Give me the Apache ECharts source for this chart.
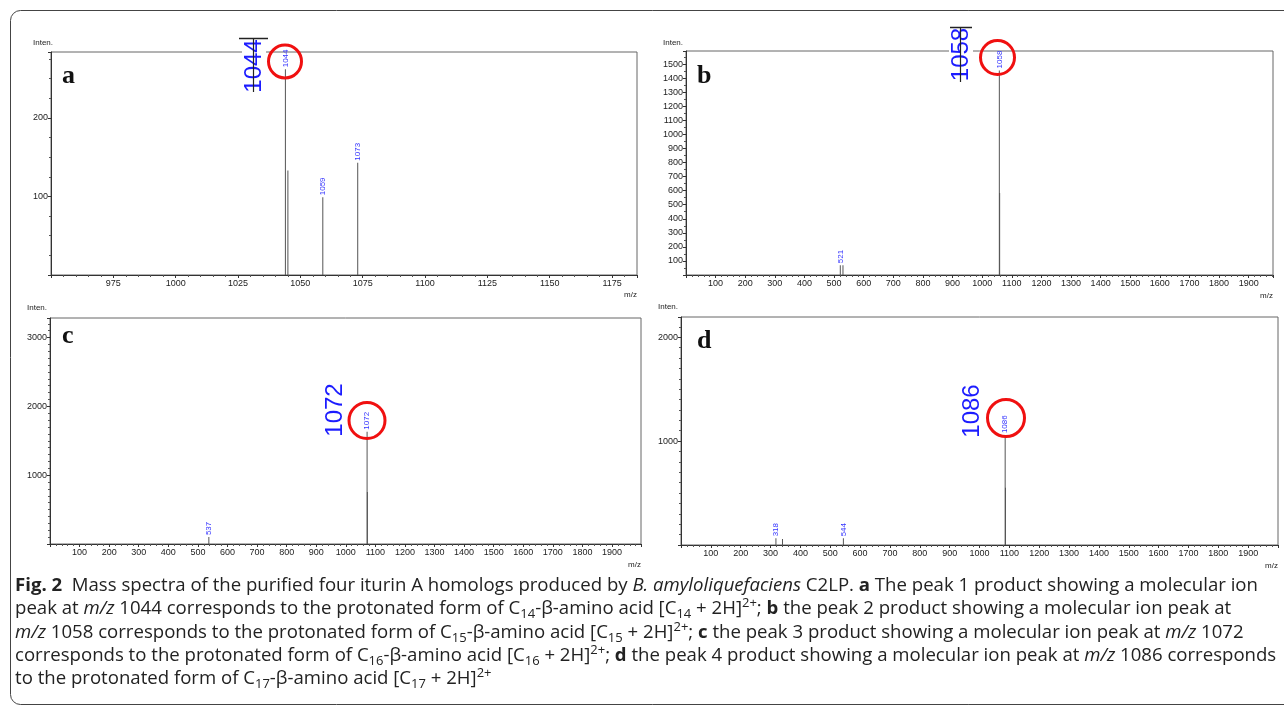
<!DOCTYPE html>
<html>
<head>
<meta charset="utf-8">
<script src="https://cdn.jsdelivr.net/npm/echarts@6/dist/echarts.min.js"></script>
<style>
html, body { margin: 0; padding: 0; background: #fff; }
#chart { width: 1284px; height: 714px; }
</style>
</head>
<body>
<div id="chart"></div>
<script>
// panel a (m/z 950-1185)
const mzA = [1044, 1045, 1059, 1073];
const intenA = [262, 133, 99, 143];
const tagA = [1, 0, 1, 1];
// panel b
const mzB = [521, 530, 1058, 1059];
const intenB = [70, 70, 1455, 583];
const tagB = [1, 0, 1, 0];
// panel c
const mzC = [537, 1072, 1073];
const intenC = [100, 1632, 754];
const tagC = [1, 1, 0];
// panel d
const mzD = [318, 340, 544, 1086, 1087];
const intenD = [64, 58, 64, 1058, 551];
const tagD = [1, 0, 1, 1, 0];

const panelLetters = ['a', 'b', 'c', 'd'];
const mainPeaks = ['1044', '1058', '1072', '1086'];

const chart = echarts.init(document.getElementById('chart'), null, { renderer: 'canvas' });

const grids = [
  { left: 51, top: 52, width: 586, height: 223 },
  { left: 686, top: 51, width: 587, height: 224 },
  { left: 50, top: 318, width: 591, height: 226 },
  { left: 681, top: 317, width: 597, height: 228 },
];

function xAx(i, min, max, interval, minor) {
  return {
    type: 'value', gridIndex: i, min: min, max: max, interval: interval,
    axisLine: { show: true, onZero: false, lineStyle: { color: '#333', width: 1 } },
    axisTick: { show: true, inside: false, length: 3, lineStyle: { color: '#333' } },
    minorTick: { show: true, splitNumber: minor, length: 2, lineStyle: { color: '#555' } },
    axisLabel: {
      fontSize: 9, fontFamily: 'Liberation Sans', color: '#222', margin: 4,
      showMinLabel: false, showMaxLabel: false,
      formatter: (v) => String(v),
    },
    splitLine: { show: false },
  };
}

function yAx(i, max, interval, minor) {
  const ax = xAx(i, 0, max, interval, minor);
  ax.axisLabel.margin = 3;
  return ax;
}

function peaks(i, mz, inten, tag) {
  return {
    type: 'bar', xAxisIndex: i, yAxisIndex: i, barWidth: 1,
    data: mz.map((m, k) => [m, inten[k]]),
    itemStyle: { color: '#555' },
    label: {
      show: true, position: 'top', rotate: 90, align: 'left', verticalAlign: 'middle',
      distance: 2, fontSize: 8, fontFamily: 'Liberation Sans', color: '#3434ff',
      formatter: (p) => tag[p.dataIndex] ? String(mz[p.dataIndex]) : '',
    },
    silent: true,
  };
}

// caption
const capFont = 'Open Sans';
const capStyles = {
  n: { fontSize: 18.6, lineHeight: 24, fontFamily: capFont, fill: '#222' },
  b: { fontSize: 18.6, lineHeight: 24, fontFamily: capFont, fontWeight: 'bold', fill: '#222' },
  i: { fontSize: 18.6, lineHeight: 24, fontFamily: capFont, fontStyle: 'italic', fill: '#222' },
  sub: { fontSize: 13, lineHeight: 13, fontFamily: capFont, verticalAlign: 'bottom', fill: '#222' },
  sup: { fontSize: 13, lineHeight: 13, fontFamily: capFont, verticalAlign: 'top', fill: '#222' },
};
const capLines = [
  [['b', 'Fig. 2'], ['n', '  Mass spectra of the purified four iturin A homologs produced by '], ['i', 'B. amyloliquefaciens'], ['n', ' C2LP. '], ['b', 'a'], ['n', ' The peak 1 product showing a molecular ion']],
  [['n', 'peak at '], ['i', 'm/z'], ['n', ' 1044 corresponds to the protonated form of C'], ['sub', '14'], ['n', '-β-amino acid [C'], ['sub', '14'], ['n', ' + 2H]'], ['sup', '2+'], ['n', '; '], ['b', 'b'], ['n', ' the peak 2 product showing a molecular ion peak at']],
  [['i', 'm/z'], ['n', ' 1058 corresponds to the protonated form of C'], ['sub', '15'], ['n', '-β-amino acid [C'], ['sub', '15'], ['n', ' + 2H]'], ['sup', '2+'], ['n', '; '], ['b', 'c'], ['n', ' the peak 3 product showing a molecular ion peak at '], ['i', 'm/z'], ['n', ' 1072']],
  [['n', 'corresponds to the protonated form of C'], ['sub', '16'], ['n', '-β-amino acid [C'], ['sub', '16'], ['n', ' + 2H]'], ['sup', '2+'], ['n', '; '], ['b', 'd'], ['n', ' the peak 4 product showing a molecular ion peak at '], ['i', 'm/z'], ['n', ' 1086 corresponds']],
  [['n', 'to the protonated form of C'], ['sub', '17'], ['n', '-β-amino acid [C'], ['sub', '17'], ['n', ' + 2H]'], ['sup', '2+']],
];

const graphics = [];
graphics.push({
  type: 'rect', shape: { x: 10.5, y: 10.5, width: 1290, height: 694, r: 10 },
  style: { fill: 'none', stroke: '#444', lineWidth: 1 }, silent: true, z: 1,
});
capLines.forEach((line, k) => {
  graphics.push({
    type: 'text', x: 15, y: 586 + k * 23.2,
    style: {
      text: line.map((t) => '{' + t[0] + '|' + t[1] + '}').join(''),
      rich: capStyles, verticalAlign: 'middle', align: 'left',
      fontSize: 18.6, fontFamily: capFont, fill: '#222',
    },
    silent: true,
  });
});

// panel letters
const letterPos = [[62, 76], [697, 76], [62, 336], [697, 341]];
panelLetters.forEach((l, k) => {
  graphics.push({
    type: 'text', x: letterPos[k][0], y: letterPos[k][1], z: 10,
    style: { text: l, font: 'bold 26px "Liberation Serif"', fill: '#111', verticalAlign: 'middle' },
    silent: true,
  });
});

// axis names
const intenPos = [[53, 43], [683, 42.5], [47, 308], [678, 306.5]];
const mzPos = [[637, 295], [1273, 295.5], [641, 565], [1278, 566]];
for (let k = 0; k < 4; k++) {
  graphics.push({
    type: 'text', x: intenPos[k][0], y: intenPos[k][1],
    style: { text: 'Inten.', font: '8px "Liberation Sans"', fill: '#222', align: 'right', verticalAlign: 'middle' },
    silent: true,
  });
  graphics.push({
    type: 'text', x: mzPos[k][0], y: mzPos[k][1],
    style: { text: 'm/z', font: '8px "Liberation Sans"', fill: '#222', align: 'right', verticalAlign: 'middle' },
    silent: true,
  });
}

// big blue peak annotations
const bigPos = [[254, 66], [961, 54.5], [335, 410], [972, 411]];
const bigBg = [true, true, false, false];
mainPeaks.forEach((t, k) => {
  graphics.push({
    type: 'text', x: bigPos[k][0], y: bigPos[k][1], rotation: Math.PI / 2, z: 20,
    style: {
      text: t, font: '24px "Liberation Sans"', fill: '#1c1cff', align: 'center', verticalAlign: 'middle',
      backgroundColor: bigBg[k] ? '#fff' : 'transparent', padding: [0, 1, 0, 1],
    },
    silent: true,
  });
});
// marker strokes over the a / b labels
graphics.push(
  { type: 'line', z: 21, shape: { x1: 239, y1: 38.5, x2: 268, y2: 38.5 }, style: { stroke: '#222', lineWidth: 1.5 }, silent: true },
  { type: 'line', z: 21, shape: { x1: 253.5, y1: 38, x2: 253.5, y2: 92 }, style: { stroke: '#222', lineWidth: 1.2 }, silent: true },
  { type: 'line', z: 21, shape: { x1: 950, y1: 27.5, x2: 972, y2: 27.5 }, style: { stroke: '#222', lineWidth: 1.5 }, silent: true },
  { type: 'line', z: 21, shape: { x1: 960.5, y1: 27, x2: 960.5, y2: 82 }, style: { stroke: '#222', lineWidth: 1.2 }, silent: true }
);

// red circles
const circles = [[285, 61.5, 16.5], [997.5, 57.5, 17], [367, 420.5, 18], [1006, 418, 18.5]];
circles.forEach((c) => {
  graphics.push({
    type: 'circle', z: 22, shape: { cx: c[0], cy: c[1], r: c[2] },
    style: { fill: 'none', stroke: '#f01010', lineWidth: 3 }, silent: true,
  });
});

chart.setOption({
  animation: false,
  backgroundColor: '#fff',
  grid: grids.map((g) => Object.assign({
    show: true, borderColor: '#666', borderWidth: 1, backgroundColor: 'transparent',
    containLabel: false, outerBoundsMode: 'none',
  }, g)),
  xAxis: [
    xAx(0, 950, 1185, 25, 5),
    xAx(1, 0, 1982, 100, 5),
    xAx(2, 0, 1998, 100, 5),
    xAx(3, 0, 2000, 100, 5),
  ],
  yAxis: [
    yAx(0, 284, 100, 4),
    yAx(1, 1593, 100, 2),
    yAx(2, 3284, 1000, 10),
    yAx(3, 2195, 1000, 10),
  ],
  series: [
    peaks(0, mzA, intenA, tagA),
    peaks(1, mzB, intenB, tagB),
    peaks(2, mzC, intenC, tagC),
    peaks(3, mzD, intenD, tagD),
  ],
  graphic: graphics,
});
</script>
</body>
</html>
